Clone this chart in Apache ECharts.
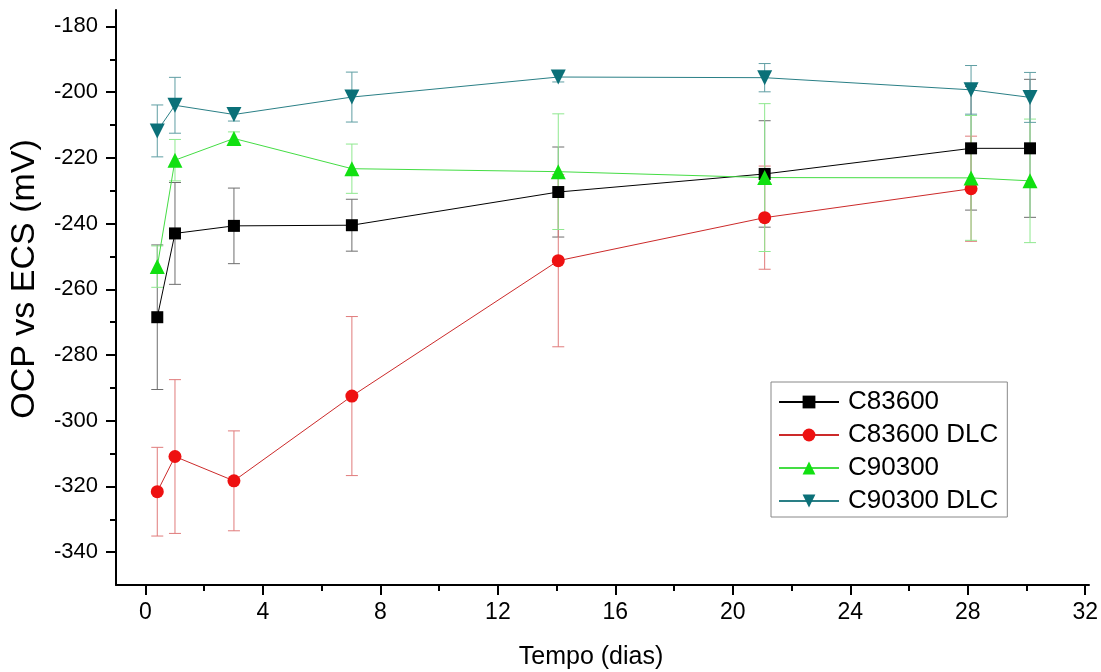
<!DOCTYPE html>
<html>
<head>
<meta charset="utf-8">
<script src="https://cdn.jsdelivr.net/npm/echarts@6/dist/echarts.min.js"></script>
<style>
html,body{margin:0;padding:0;background:#fff;}
#chart{width:1101px;height:672px;}
</style>
</head>
<body>
<div id="chart"></div>
<script>
// ---- data ----
const days = [0.4, 1, 3, 7, 14, 21, 28, 30];
const seriesNames = ['C83600', 'C83600 DLC', 'C90300', 'C90300 DLC'];
const c83600 = [-268.5, -243.0, -240.7, -240.5, -230.4, -224.9, -217.1, -217.1];
const c83600Err = [22, 15.5, 11.5, 7.9, 13.7, 16.2, 18.8, 21];
const c83600dlc = [-321.6, -310.9, -318.3, -292.5, -251.3, -238.2, -229.4, null];
const c83600dlcErr = [13.5, 23.4, 15.2, 24.2, 26.2, 15.7, 16, null];
const c90300 = [-253.1, -220.7, -214.1, -223.3, -224.2, -226.0, -226.1, -227.0];
const c90300Err = [6.3, 6.3, 2, 7.5, 17.6, 22.5, 19, 18.8];
const c90300dlc = [-211.8, -204.0, -206.8, -201.5, -195.4, -195.6, -199.3, -201.6];
const c90300dlcErr = [7.9, 8.5, 2, 7.6, 1.5, 4.3, 7.4, 7.6];
const xTicks = [0, 4, 8, 12, 16, 20, 24, 28, 32];
const yTicks = [-340, -320, -300, -280, -260, -240, -220, -200, -180];
const xTitle = 'Tempo (dias)';
const yTitle = 'OCP vs ECS (mV)';

// ---- layout ----
const W = 1101, H = 672;
const gA = {left: 116, right: 12, top: 10, bottom: 87};
const xMin = -1, xMax = 32, yMin = -350, yMax = -175;
const pxPerX = (W - gA.left - gA.right) / (xMax - xMin);
const pxPerY = (H - gA.top - gA.bottom) / (yMax - yMin);
const gB = {
  left: gA.left + (xTicks[0] - xMin) * pxPerX,
  right: gA.right,
  top: gA.top + (yMax - yTicks[yTicks.length - 1]) * pxPerY,
  bottom: gA.bottom + (yTicks[0] - yMin) * pxPerY
};

const FONT = "'Liberation Sans', Arial, sans-serif";

function pairs(xs, ys) {
  const out = [];
  xs.forEach((x, i) => { if (ys[i] != null) out.push([x, ys[i]]); });
  return out;
}
function errData(xs, ys, es) {
  const out = [];
  xs.forEach((x, i) => { if (ys[i] != null) out.push([x, ys[i] - es[i], ys[i] + es[i]]); });
  return out;
}
function errSeries(ys, es, color) {
  return {
    type: 'custom', xAxisIndex: 0, yAxisIndex: 0, silent: true, z: 1,
    data: errData(days, ys, es),
    encode: {x: 0, y: [1, 2]},
    clip: false,
    renderItem: function (params, api) {
      const x = api.value(0);
      const lo = api.coord([x, api.value(1)]);
      const hi = api.coord([x, api.value(2)]);
      const w = 6;
      const st = {stroke: color, lineWidth: 1};
      return {type: 'group', children: [
        {type: 'line', shape: {x1: lo[0], y1: lo[1], x2: hi[0], y2: hi[1]}, style: st},
        {type: 'line', shape: {x1: lo[0] - w, y1: lo[1], x2: lo[0] + w, y2: lo[1]}, style: st},
        {type: 'line', shape: {x1: hi[0] - w, y1: hi[1], x2: hi[0] + w, y2: hi[1]}, style: st}
      ]};
    }
  };
}
function lineSeries(name, ys, color, lineColor, symbol, size, rotate) {
  return {
    name: name, type: 'line', xAxisIndex: 0, yAxisIndex: 0, z: 3,
    data: pairs(days, ys),
    symbol: symbol, symbolSize: size, symbolRotate: rotate || 0,
    showAllSymbol: true, clip: false,
    lineStyle: {color: lineColor, width: 1},
    itemStyle: {color: color},
    emphasis: {disabled: true},
    animation: false
  };
}

const chart = echarts.init(document.getElementById('chart'), null, {renderer: 'canvas'});
chart.setOption({
  backgroundColor: '#fff',
  animation: false,
  grid: [
    {left: gA.left, right: gA.right, top: gA.top, bottom: gA.bottom, containLabel: false},
    {left: gB.left, right: gB.right, top: gB.top, bottom: gB.bottom, containLabel: false}
  ],
  xAxis: [
    {type: 'value', gridIndex: 0, min: xMin, max: xMax, interval: 1,
     axisLine: {show: true, onZero: false, lineStyle: {color: '#000', width: 2}},
     axisTick: {show: false}, axisLabel: {show: false}, splitLine: {show: false}},
    {type: 'value', gridIndex: 1, min: xTicks[0], max: xTicks[xTicks.length - 1], interval: xTicks[1] - xTicks[0],
     position: 'bottom', offset: gB.bottom - gA.bottom,
     axisLine: {show: false, onZero: false},
     axisTick: {show: true, length: 10, lineStyle: {color: '#000', width: 2}},
     minorTick: {show: true, splitNumber: 2, length: 6, lineStyle: {color: '#000', width: 2}},
     axisLabel: {show: true, margin: 16, fontFamily: FONT, fontSize: 23, color: '#000'},
     splitLine: {show: false}}
  ],
  yAxis: [
    {type: 'value', gridIndex: 0, min: yMin, max: yMax, interval: 5,
     axisLine: {show: true, onZero: false, lineStyle: {color: '#000', width: 2}},
     axisTick: {show: false}, axisLabel: {show: false}, splitLine: {show: false}},
    {type: 'value', gridIndex: 1, min: yTicks[0], max: yTicks[yTicks.length - 1], interval: yTicks[1] - yTicks[0],
     position: 'left', offset: gB.left - gA.left,
     axisLine: {show: false, onZero: false},
     axisTick: {show: true, length: 10, lineStyle: {color: '#000', width: 2}},
     minorTick: {show: true, splitNumber: 2, length: 6, lineStyle: {color: '#000', width: 2}},
     axisLabel: {show: true, margin: 18, fontFamily: FONT, fontSize: 22, color: '#000'},
     splitLine: {show: false}}
  ],
  graphic: [
    {type: 'text', silent: true, x: 591, y: 657,
     style: {text: xTitle, font: "25px 'Liberation Sans', Arial, sans-serif", fill: '#000', textAlign: 'center', textVerticalAlign: 'middle'}},
    {type: 'text', silent: true, x: 25, y: 279, rotation: Math.PI / 2,
     style: {text: yTitle, font: "34px 'Liberation Sans', Arial, sans-serif", fill: '#000', textAlign: 'center', textVerticalAlign: 'middle'}}
  ],
  legend: {
    show: true, orient: 'vertical', left: 771, top: 382,
    data: seriesNames,
    itemWidth: 60, itemHeight: 16, itemGap: 7,
    padding: [7, 9, 3, 7],
    borderColor: '#888', borderWidth: 1, backgroundColor: '#fff',
    textStyle: {fontFamily: FONT, fontSize: 26, color: '#000', padding: [0, 0, 0, 4]},
    selectedMode: false
  },
  series: [
    errSeries(c83600, c83600Err, '#6e6e6e'),
    errSeries(c83600dlc, c83600dlcErr, '#e07b7b'),
    errSeries(c90300, c90300Err, '#8fe88f'),
    errSeries(c90300dlc, c90300dlcErr, '#5f9ea3'),
    lineSeries(seriesNames[0], c83600, '#000000', '#000000', 'rect', 12),
    lineSeries(seriesNames[1], c83600dlc, '#ee1111', '#cc2a2a', 'circle', 13),
    lineSeries(seriesNames[2], c90300, '#11e011', '#44dd44', 'triangle', 15),
    lineSeries(seriesNames[3], c90300dlc, '#0b7078', '#2a7f86', 'triangle', 15, 180)
  ]
});
</script>
</body>
</html>
